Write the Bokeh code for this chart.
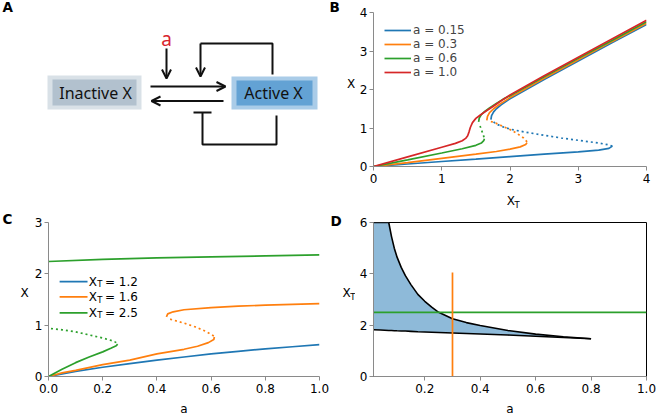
from bokeh.plotting import figure
from bokeh.layouts import column, row
from bokeh.models import (Range1d, Label, Legend, LegendItem, FixedTicker,
                          PrintfTickFormatter, Arrow, OpenHead)
from bokeh.embed import file_html
from bokeh.resources import INLINE

BLUE, ORANGE, GREEN, RED = "#1f77b4", "#ff7f0e", "#2ca02c", "#d62728"
FONT = "DejaVu Sans"
TICK_FS = "12px"
SUB_FS = "8.5px"
LETTER_FS = "13.5px"

# ---------------- Panel B: steady state X vs X_T for several a ----------------
b_labels = ["a = 0.15", "a = 0.3", "a = 0.6", "a = 1.0"]
b015_low_xt = [0, 0.5, 1.0, 1.5, 2.0, 2.5, 3.0, 3.3, 3.45, 3.5]
b015_low_x = [0, 0.065, 0.13, 0.19, 0.255, 0.32, 0.38, 0.425, 0.47, 0.53]
b015_mid_xt = [3.5, 3.45, 3.3, 3.0, 2.75, 2.5, 2.2, 2.0, 1.9, 1.8, 1.73]
b015_mid_x = [0.53, 0.56, 0.61, 0.68, 0.74, 0.81, 0.9, 0.97, 1.03, 1.1, 1.2]
b015_up_xt = [1.72, 1.73, 1.76, 1.8, 1.87, 1.95, 2.0, 2.5, 3.0, 3.5, 4.0]
b015_up_x = [1.22, 1.32, 1.42, 1.5, 1.6, 1.7, 1.76, 2.26, 2.74, 3.22, 3.69]

b03_low_xt = [0, 0.5, 1.0, 1.5, 1.8, 2.0, 2.15, 2.23, 2.25]
b03_low_x = [0, 0.1, 0.21, 0.32, 0.39, 0.45, 0.51, 0.57, 0.62]
b03_mid_xt = [2.25, 2.2, 2.1, 2.0, 1.9, 1.8, 1.72, 1.68]
b03_mid_x = [0.64, 0.74, 0.86, 0.96, 1.04, 1.12, 1.17, 1.2]
b03_up_xt = [1.66, 1.67, 1.7, 1.76, 1.85, 1.95, 2.0, 2.5, 3.0, 3.5, 4.0]
b03_up_x = [1.2, 1.3, 1.4, 1.5, 1.62, 1.73, 1.79, 2.29, 2.77, 3.25, 3.72]

b06_low_xt = [0, 0.5, 1.0, 1.3, 1.5, 1.58, 1.615, 1.625]
b06_low_x = [0, 0.17, 0.35, 0.46, 0.55, 0.61, 0.67, 0.72]
b06_mid_xt = [1.62, 1.6, 1.58, 1.56, 1.55]
b06_mid_x = [0.76, 0.86, 0.96, 1.06, 1.12]
b06_up_xt = [1.54, 1.55, 1.58, 1.63, 1.7, 1.8, 1.9, 2.0, 2.5, 3.0, 3.5, 4.0]
b06_up_x = [1.16, 1.26, 1.35, 1.43, 1.52, 1.64, 1.75, 1.84, 2.33, 2.81, 3.28, 3.76]

b10_xt = [0, 0.5, 1.0, 1.2, 1.3, 1.35, 1.38, 1.4, 1.42, 1.45, 1.5, 1.56, 1.65,
          1.75, 1.85, 2.0, 2.5, 3.0, 3.5, 4.0]
b10_x = [0, 0.25, 0.5, 0.6, 0.67, 0.73, 0.8, 0.9, 1.02, 1.14, 1.25, 1.33, 1.44,
         1.56, 1.68, 1.86, 2.36, 2.84, 3.32, 3.80]

b_xticks = [0, 1, 2, 3, 4]
b_yticks = [0, 1, 2, 3, 4]

# ---------------- Panel C: steady state X vs a for several X_T ----------------
c_labels = ["= 1.2", "= 1.6", "= 2.5"]
c12_a = [0, 0.1, 0.2, 0.3, 0.4, 0.5, 0.6, 0.7, 0.8, 0.9, 1.0]
c12_x = [0, 0.1, 0.18, 0.25, 0.32, 0.38, 0.44, 0.49, 0.54, 0.58, 0.62]

c16_low_a = [0, 0.05, 0.1, 0.2, 0.3, 0.4, 0.5, 0.55, 0.59, 0.61, 0.612]
c16_low_x = [0, 0.07, 0.12, 0.23, 0.32, 0.44, 0.53, 0.59, 0.66, 0.72, 0.77]
c16_mid_a = [0.61, 0.58, 0.54, 0.5, 0.46, 0.44]
c16_mid_x = [0.79, 0.88, 0.97, 1.04, 1.1, 1.13]
c16_up_a = [0.435, 0.44, 0.46, 0.5, 0.6, 0.7, 0.8, 0.9, 1.0]
c16_up_x = [1.16, 1.22, 1.26, 1.3, 1.34, 1.37, 1.39, 1.405, 1.42]

c25_low_a = [0, 0.05, 0.1, 0.15, 0.2, 0.23, 0.25, 0.255]
c25_low_x = [0, 0.14, 0.27, 0.38, 0.48, 0.55, 0.6, 0.63]
c25_mid_a = [0.25, 0.24, 0.2, 0.15, 0.1, 0.05, 0.0]
c25_mid_x = [0.66, 0.69, 0.75, 0.81, 0.87, 0.91, 0.94]
c25_up_a = [0, 0.2, 0.4, 0.6, 0.8, 1.0]
c25_up_x = [2.24, 2.28, 2.31, 2.33, 2.35, 2.37]

c_xticks = [0, 0.2, 0.4, 0.6, 0.8, 1.0]
c_yticks = [0, 1, 2, 3]

# ---------------- Panel D: bistable region in (a, X_T) ----------------
d_a = [0.015, 0.04, 0.07, 0.08, 0.09, 0.1, 0.115, 0.13, 0.15, 0.175, 0.2, 0.225,
       0.25, 0.3, 0.35, 0.4, 0.5, 0.6, 0.7, 0.8]
d_lower = [1.82, 1.81, 1.795, 1.79, 1.785, 1.78, 1.775, 1.77, 1.76, 1.745, 1.735,
           1.725, 1.715, 1.695, 1.675, 1.655, 1.615, 1.57, 1.52, 1.47]
d_upper = [6.0, 6.0, 6.0, 5.45, 5.0, 4.65, 4.25, 3.93, 3.58, 3.2, 2.93, 2.7,
           2.5, 2.25, 2.1, 1.99, 1.79, 1.65, 1.55, 1.47]
d_slice_a = 0.3          # vertical slice (orange)
d_slice_a_xt = [0, 4.05]
d_slice_xt = 2.5         # horizontal slice (green)
d_slice_xt_a = [0.015, 1.0]
d_xticks = [0.2, 0.4, 0.6, 0.8, 1.0]
d_yticks = [0, 2, 4, 6]


def style(p, xticks, yticks, fmt=None, xlabel=None):
    p.grid.visible = False
    for ax in (p.xaxis[0], p.yaxis[0]):
        ax.axis_line_color = "#8a8a8a"
        ax.axis_line_width = 1
        ax.major_tick_line_color = "#8a8a8a"
        ax.major_tick_out = 4
        ax.major_tick_in = 0
        ax.minor_tick_line_color = None
        ax.major_label_text_font = FONT
        ax.major_label_text_font_size = TICK_FS
        ax.major_label_text_color = "black"
    p.xaxis[0].major_label_standoff = 3
    p.yaxis[0].major_label_standoff = 2
    p.xaxis[0].ticker = FixedTicker(ticks=xticks)
    p.yaxis[0].ticker = FixedTicker(ticks=yticks)
    if fmt:
        p.xaxis[0].formatter = PrintfTickFormatter(format=fmt)
    if xlabel:
        ax = p.xaxis[0]
        ax.axis_label = xlabel
        ax.axis_label_text_font = FONT
        ax.axis_label_text_font_size = TICK_FS
        ax.axis_label_text_font_style = "normal"
        ax.axis_label_text_color = "black"
        ax.axis_label_standoff = 6


def lab(p, x, y, text, size=TICK_FS, align="left", baseline="middle",
        bold=False, color="black", font=FONT):
    p.add_layout(Label(x=x, y=y, text=text, text_font=font, text_font_size=size,
                       text_align=align, text_baseline=baseline, text_color=color,
                       text_font_style="bold" if bold else "normal"))


def base_fig(w, h, xr, yr, bl, br, bt, bb):
    return figure(width=w, height=h, x_range=Range1d(*xr), y_range=Range1d(*yr),
                  output_backend="svg", toolbar_location=None,
                  min_border_left=bl, min_border_right=br,
                  min_border_top=bt, min_border_bottom=bb)


def pixel_fig(x0, x1, y0, y1):
    """Axis-less strip whose data units are page pixels (for texts and the schematic)."""
    p = figure(width=x1 - x0, height=y1 - y0, x_range=Range1d(x0, x1),
               y_range=Range1d(y1, y0), output_backend="svg", toolbar_location=None,
               x_axis_type=None, y_axis_type=None, min_border=0)
    p.grid.visible = False
    p.outline_line_color = None
    return p


LW = 1.7
DASH = "2 3"

# ---------------- Panel A (schematic) + letters A, B and the y label of B -------
pA = pixel_fig(0, 355, 0, 211)
pA.rect(x=[94, 94], y=[92, 92], width=[94, 84], height=[34, 26],
        fill_color=["#c9d4dd", "#adbecb"], fill_alpha=[0.7, 0.9], line_color=None)
pA.rect(x=[274, 274], y=[92.5, 92.5], width=[86, 76], height=[33, 25],
        fill_color=["#8dbbe0", "#5f9fd3"], fill_alpha=[0.75, 0.95], line_color=None)
lab(pA, 95, 92, "Inactive X", size="16px", align="center", font="Noto Sans", color="#111111")
lab(pA, 273, 92, "Active X", size="16px", align="center", font="Noto Sans", color="#111111")
lab(pA, 166, 38, "a", size="19px", align="center", font="Noto Sans", color="#d8232e")
arrows = [(166, 48, 166, 78), (150, 86, 225, 86), (223, 100.5, 151, 100.5), (200, 43, 200, 76)]
for xs, ys, xe, ye in arrows:
    pA.add_layout(Arrow(end=OpenHead(size=9, line_width=2, line_color="#111111"),
                        x_start=xs, y_start=ys, x_end=xe, y_end=ye,
                        line_width=2, line_color="#111111"))
pA.line([272, 272, 200], [74, 43, 43], line_width=2, line_color="#111111")
pA.line([276, 276, 202, 202], [115, 144, 144, 112], line_width=2, line_color="#111111")
pA.line([193, 211], [112, 112], line_width=2, line_color="#111111")
lab(pA, 2, -2, "A", size=LETTER_FS, bold=True, baseline="top")
lab(pA, 329, -2, "B", size=LETTER_FS, bold=True, baseline="top")
lab(pA, 350.6, 83, "X", align="center")

# ---------------- Panel B ----------------
pB = base_fig(303, 190, (0, 4), (0, 4), 18, 12, 12, 24)
pB.outline_line_color = None
style(pB, b_xticks, b_yticks)
rb1 = pB.line(b015_low_xt, b015_low_x, color=BLUE, line_width=LW)
pB.line(b015_mid_xt, b015_mid_x, color=BLUE, line_width=LW, line_dash=DASH)
pB.line(b015_up_xt, b015_up_x, color=BLUE, line_width=LW)
rb2 = pB.line(b03_low_xt, b03_low_x, color=ORANGE, line_width=LW)
pB.line(b03_mid_xt, b03_mid_x, color=ORANGE, line_width=LW, line_dash=DASH)
pB.line(b03_up_xt, b03_up_x, color=ORANGE, line_width=LW)
rb3 = pB.line(b06_low_xt, b06_low_x, color=GREEN, line_width=LW)
pB.line(b06_mid_xt, b06_mid_x, color=GREEN, line_width=LW, line_dash=DASH)
pB.line(b06_up_xt, b06_up_x, color=GREEN, line_width=LW)
rb4 = pB.line(b10_xt, b10_x, color=RED, line_width=LW)
legB = Legend(items=[LegendItem(label=t, renderers=[r]) for t, r in
                     zip(b_labels, [rb1, rb2, rb3, rb4])],
              location="top_left", margin=11, padding=0, border_line_color=None,
              background_fill_alpha=0, glyph_width=27, glyph_height=12,
              label_height=12, spacing=0, label_standoff=2,
              label_text_font=FONT, label_text_font_size=TICK_FS)
pB.add_layout(legB)

# x label of B (X with subscript T)
pBx = pixel_fig(355, 658, 190, 211)
lab(pBx, 503, 200.5, "X")
lab(pBx, 511.5, 204, "T", size=SUB_FS)

# ---------------- Panel C (+ strip with letter C and y label) ----------------
pCL = pixel_fig(0, 30, 211, 418)
lab(pCL, 2, 210, "C", size=LETTER_FS, bold=True, baseline="top")
lab(pCL, 24, 292, "X", align="center")

pC = base_fig(300, 207, (0, 1), (0, 3), 18, 11, 11, 41)
pC.outline_line_color = None
style(pC, c_xticks, c_yticks, "%.1f", xlabel="a")
pC.line(c12_a, c12_x, color=BLUE, line_width=LW)
pC.line(c16_low_a, c16_low_x, color=ORANGE, line_width=LW)
pC.line(c16_mid_a, c16_mid_x, color=ORANGE, line_width=LW, line_dash=DASH)
pC.line(c16_up_a, c16_up_x, color=ORANGE, line_width=LW)
pC.line(c25_low_a, c25_low_x, color=GREEN, line_width=LW)
pC.line(c25_mid_a, c25_mid_x, color=GREEN, line_width=LW, line_dash=DASH)
pC.line(c25_up_a, c25_up_x, color=GREEN, line_width=LW)
leg_rows = [1.85, 1.55, 1.24]
for yrow, col, txt in zip(leg_rows, [BLUE, ORANGE, GREEN], c_labels):
    pC.line([0.041, 0.144], [yrow, yrow], color=col, line_width=LW)
    lab(pC, 0.1487, yrow, "X")
    lab(pC, 0.1797, yrow - 0.05, "T", size=SUB_FS)
    lab(pC, 0.2085, yrow, txt)

# ---------------- Panel D (+ strip with letter D and y label) ----------------
pDL = pixel_fig(330, 355, 211, 418)
lab(pDL, 330, 212, "D", size=LETTER_FS, bold=True, baseline="top")
lab(pDL, 342, 292.5, "X")
lab(pDL, 349.8, 296, "T", size=SUB_FS)

pD = base_fig(303, 207, (0.015, 1.0), (0, 6), 18, 12, 11, 41)
pD.outline_line_color = "black"
pD.outline_line_width = 1
style(pD, d_xticks, d_yticks, "%.1f", xlabel="a")
pD.varea(x=d_a, y1=d_lower, y2=d_upper, fill_color="#8ebad9")
pD.line(d_a, d_lower, color="black", line_width=1.6)
pD.line(d_a, d_upper, color="black", line_width=1.6)
pD.line(d_slice_xt_a, [d_slice_xt, d_slice_xt], color=GREEN, line_width=LW)
pD.line([d_slice_a, d_slice_a], d_slice_a_xt, color=ORANGE, line_width=LW)

layout = column(row(column(pA), column(pB, pBx)),
                row(column(pCL), column(pC), column(pDL), column(pD)))
open("out.html", "w").write(file_html(layout, INLINE))
